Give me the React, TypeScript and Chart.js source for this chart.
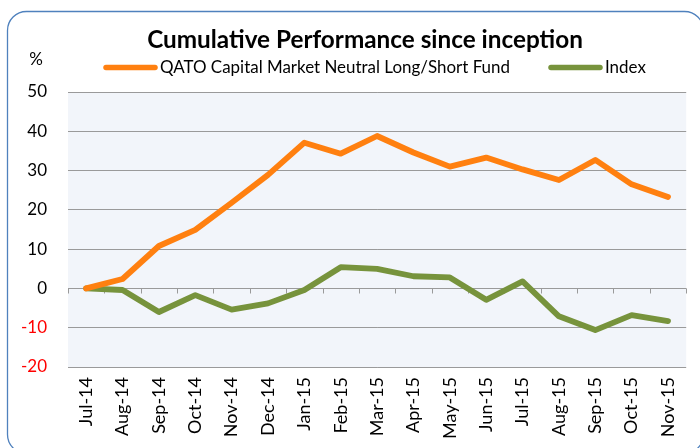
import React, { useEffect, useRef } from "react";
import { Chart, registerables } from "chart.js";

Chart.register(...registerables);

const categories = [
  "Jul-14", "Aug-14", "Sep-14", "Oct-14", "Nov-14", "Dec-14",
  "Jan-15", "Feb-15", "Mar-15", "Apr-15", "May-15", "Jun-15",
  "Jul-15", "Aug-15", "Sep-15", "Oct-15", "Nov-15",
];
const fundValues = [0, 2.4, 10.8, 14.9, 21.8, 28.9, 37.1, 34.3, 38.8, 34.6, 31.0, 33.3, 30.3, 27.6, 32.7, 26.5, 23.3];
const indexValues = [0, -0.4, -6.0, -1.7, -5.4, -3.8, -0.4, 5.4, 5.0, 3.1, 2.8, -2.9, 1.8, -7.1, -10.6, -6.8, -8.3];

const TITLE = "Cumulative Performance since inception";
const FUND_LABEL = "QATO Capital Market Neutral Long/Short Fund";
const INDEX_LABEL = "Index";
const UNIT_LABEL = "%";
const Y_MIN = -20;
const Y_MAX = 50;
const Y_STEP = 10;

const FUND_COLOR = "#FF8010";
const INDEX_COLOR = "#77933C";
const FONT = "Lato, 'Open Sans', sans-serif";

function fitFont(ctx: CanvasRenderingContext2D, text: string, weight: string, base: number, target: number) {
  ctx.font = `${weight} ${base}px ${FONT}`;
  const w = ctx.measureText(text).width;
  const size = base * (target / w);
  ctx.font = `${weight} ${size}px ${FONT}`;
  return size;
}

const decorPlugin = {
  id: "decor",
  beforeDraw(chart: any) {
    const { ctx, chartArea } = chart;
    ctx.save();
    ctx.fillStyle = "#ffffff";
    ctx.fillRect(0, 0, chart.width, chart.height);
    ctx.fillStyle = "#F2F5FA";
    ctx.fillRect(chartArea.left, chartArea.top, chartArea.right - chartArea.left, chartArea.bottom - chartArea.top);
    ctx.restore();
  },
  beforeDatasetsDraw(chart: any) {
    const { ctx } = chart;
    const xs = chart.scales.x;
    const ys = chart.scales.y;
    const y0 = Math.round(ys.getPixelForValue(0)) + 0.5;
    ctx.save();
    ctx.strokeStyle = "#9A9A9A";
    ctx.lineWidth = 1;
    ctx.beginPath();
    ctx.moveTo(chart.chartArea.left, y0);
    ctx.lineTo(chart.chartArea.right, y0);
    for (let i = 0; i <= categories.length; i++) {
      const x = Math.round(xs.getPixelForValue(i - 0.5)) + 0.5;
      ctx.moveTo(x, y0);
      ctx.lineTo(x, y0 + 5);
    }
    ctx.stroke();
    ctx.restore();
  },
  afterDraw(chart: any) {
    const { ctx } = chart;
    ctx.save();
    // Title
    ctx.fillStyle = "#000";
    ctx.textBaseline = "middle";
    ctx.textAlign = "center";
    fitFont(ctx, TITLE, "bold", 22, 436);
    ctx.fillText(TITLE, 365, 40);

    // Unit label
    ctx.font = `17px ${FONT}`;
    ctx.fillText(UNIT_LABEL, 36, 60);

    // Legend
    const ds = chart.data.datasets;
    ctx.textAlign = "left";
    const legendY = 67.5;
    const items = [
      { label: ds[0].label, color: ds[0].borderColor, sx: 103, tx: 160, tw: 350 },
      { label: ds[1].label, color: ds[1].borderColor, sx: 548, tx: 605, tw: 41 },
    ];
    const legendSize = (() => {
      ctx.font = `16px ${FONT}`;
      const w = ctx.measureText(items[0].label).width;
      return 16 * (items[0].tw / w);
    })();
    for (const it of items) {
      ctx.strokeStyle = it.color;
      ctx.lineWidth = 5.5;
      ctx.lineCap = "round";
      ctx.beginPath();
      ctx.moveTo(it.sx + 3, legendY);
      ctx.lineTo(it.sx + 52, legendY);
      ctx.stroke();
      ctx.font = `${legendSize}px ${FONT}`;
      ctx.fillStyle = "#000";
      ctx.fillText(it.label, it.tx, legendY);
    }

    // Outer border
    ctx.strokeStyle = "#4F81BD";
    ctx.lineWidth = 1.3;
    ctx.beginPath();
    (ctx as any).roundRect(7.5, 11.5, 696, 442, 19);
    ctx.stroke();
    ctx.restore();
  },
};

export default function App() {
  const canvasRef = useRef<HTMLCanvasElement | null>(null);

  useEffect(() => {
    const canvas = canvasRef.current;
    if (!canvas) return;
    const chart = new Chart(canvas, {
      type: "line",
      data: {
        labels: categories,
        datasets: [
          {
            label: FUND_LABEL,
            data: fundValues,
            borderColor: FUND_COLOR,
            backgroundColor: FUND_COLOR,
            borderWidth: 5.8,
            pointRadius: 0,
            tension: 0,
            borderJoinStyle: "round",
            borderCapStyle: "round",
          },
          {
            label: INDEX_LABEL,
            data: indexValues,
            borderColor: INDEX_COLOR,
            backgroundColor: INDEX_COLOR,
            borderWidth: 5.8,
            pointRadius: 0,
            tension: 0,
            borderJoinStyle: "round",
            borderCapStyle: "round",
          },
        ],
      },
      options: {
        animation: false,
        responsive: false,
        devicePixelRatio: 1,
        layout: { padding: { top: 92, left: 0, right: 13, bottom: 0 } },
        plugins: {
          legend: { display: false },
          title: { display: false },
          tooltip: { enabled: false },
        },
        scales: {
          x: {
            type: "category",
            offset: true,
            grid: { display: false, drawTicks: false },
            border: { display: false },
            ticks: {
              autoSkip: false,
              maxRotation: 90,
              minRotation: 90,
              padding: 10,
              color: "#000",
              font: { family: FONT, size: 18 },
            },
            afterFit: (s: any) => {
              s.height = 81;
            },
          },
          y: {
            min: Y_MIN,
            max: Y_MAX,
            grid: { color: "#9A9A9A", lineWidth: 1, drawTicks: false },
            border: { display: false },
            ticks: {
              stepSize: Y_STEP,
              padding: 21,
              font: { family: FONT, size: 17 },
              color: (c: any) => (c.tick && c.tick.value < 0 ? "#FF0000" : "#000000"),
            },
            afterFit: (s: any) => {
              s.width = 68;
            },
          },
        },
      },
      plugins: [decorPlugin],
    } as any);
    return () => chart.destroy();
  }, []);

  return (
    <div style={{ position: "absolute", left: 0, top: 0, width: 700, height: 448 }}>
      <canvas ref={canvasRef} width={700} height={448} style={{ width: 700, height: 448, display: "block" }} />
    </div>
  );
}
